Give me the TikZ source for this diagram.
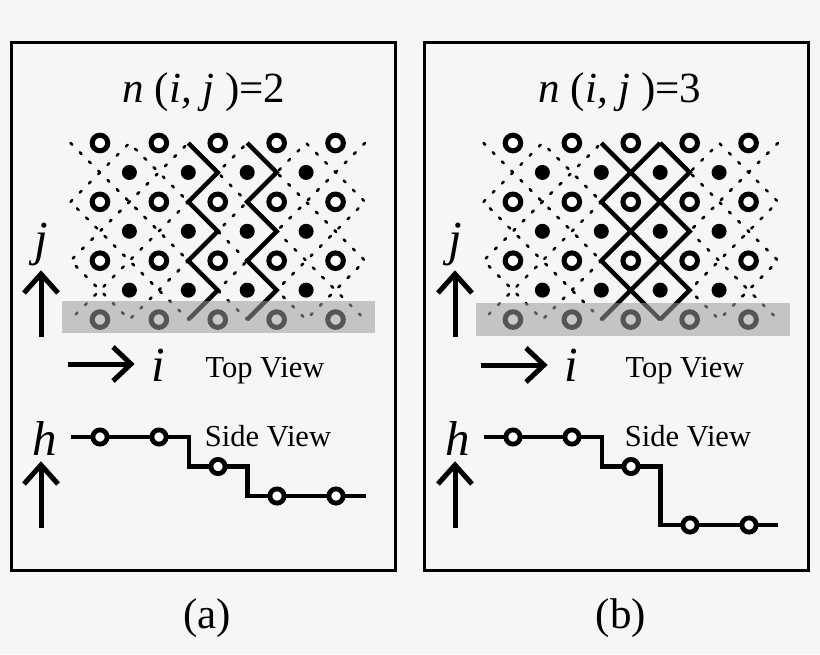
\documentclass[tikz,border=0pt]{standalone}
\usepackage{fontspec}
\setmainfont{Liberation Serif}
\definecolor{pagebg}{HTML}{F6F6F6}
\tikzset{
  x=1pt,y=-1pt,
  panelbox/.style={draw=black,line width=3pt,fill=none},
  bond/.style={draw=black,line width=2.6pt,line cap=round,line join=round,dash pattern=on 2.4pt off 10.66pt},
  solidbond/.style={draw=black,line width=4.4pt,miter limit=10},
  ringatom/.style={circle,draw=black,fill=white,line width=5pt,minimum size=15.6pt,inner sep=0pt,outer sep=0pt},
  sidering/.style={circle,draw=black,fill=white,line width=4.8pt,minimum size=14.2pt,inner sep=0pt,outer sep=0pt},
  solidatom/.style={circle,fill=black,minimum size=15pt,inner sep=0pt,outer sep=0pt},
  band/.style={fill={rgb,255:red,155;green,155;blue,155},fill opacity=.55},
  axis/.style={draw=black,line width=5pt,miter limit=10},
  stepline/.style={draw=black,line width=4.6pt,miter limit=10},
  title/.style={font=\fontsize{43}{43}\selectfont,inner sep=0pt},
  caption/.style={font=\fontsize{43}{43}\selectfont,inner sep=0pt},
  viewlabel/.style={font=\fontsize{30.5}{30.5}\selectfont,inner sep=0pt},
  axislabel/.style={font=\fontsize{49}{49}\selectfont\itshape,inner sep=0pt},
}
% lattice coordinates: column k, row m
\newcommand{\LP}[2]{({70.5+29.45*(#1)},{143+29.43*(#2)})}
\newcommand{\bonds}{%
  \draw[bond] \LP{0}{0} -- \LP{6}{6} -- \LP{10}{2} -- \LP{8}{0} -- \LP{2}{6} -- \LP{0}{4} -- \LP{4}{0} -- \LP{10}{6};
  \draw[bond] \LP{0}{2} -- \LP{2}{0} -- \LP{8}{6} -- \LP{10}{4} -- \LP{6}{0} -- \LP{0}{6};
  \draw[bond] \LP{10}{0} -- \LP{4}{6} -- \LP{0}{2};}
\newcommand{\atoms}[1]{%
  \foreach \k [count=\n] in {1,3,5,7,9}{%
    \foreach \m in {0,2,4,6}{%
      \node[ringatom] (#1r\n\m) at \LP{\k}{\m} {};
    }}
  \foreach \k [count=\n] in {2,4,6,8}{%
    \foreach \m in {1,3,5}{%
      \node[solidatom] (#1f\n\m) at \LP{\k}{\m} {};
    }}}
% zigzag between columns: #1 = column at rows 0,2,4,6; #2 = column at rows 1,3,5
\newcommand{\zig}[2]{%
  \draw[solidbond] \LP{#1}{0} -- \LP{#2}{1} -- \LP{#1}{2} -- \LP{#2}{3} -- \LP{#1}{4} -- \LP{#2}{5} -- \LP{#1}{6};}
\begin{document}
\begin{tikzpicture}
\useasboundingbox (0,0) rectangle (820,654);
\fill[pagebg] (0,0) rectangle (820,654);
%% ---------- panel a
\draw[panelbox] (11.5,42.5) rectangle (395.5,570.5);
\node[title] (ta) at (204,92) {\textit{n} (\textit{i, j} )=2};
\begin{scope}
  \bonds
  \zig{4}{5}
  \zig{6}{7}
  \atoms{a}
  \fill[band] (62,301) rectangle (375,333);
\end{scope}
\draw[axis] (41,337) -- (41,274);
\draw[axis] (24,293) -- (41,274) -- (58,293);
\node[axislabel] (ja) at (41,244) {j};
\draw[axis] (68,364) -- (131,364);
\draw[axis] (113,347) -- (131,364) -- (113,381);
\node[axislabel] (ia) at (158,365) {i};
\node[viewlabel] (tva) at (265,371) {Top View};
\node[viewlabel] (sva) at (268,436) {Side View};
\node[axislabel] (ha) at (45,438) {h};
\draw[axis] (41,528) -- (41,465);
\draw[axis] (24,484) -- (41,465) -- (58,484);
\draw[stepline] (71,437) -- (189,437) -- (189,466.5) -- (247.5,466.5) -- (247.5,496) -- (366,496);
\node[sidering] (sa1) at (100,437) {};
\node[sidering] (sa2) at (159,437) {};
\node[sidering] (sa3) at (218,466.5) {};
\node[sidering] (sa4) at (277,496) {};
\node[sidering] (sa5) at (336,496) {};
\node[caption] (ca) at (207,618) {(a)};
%% ---------- panel b
\draw[panelbox] (424.5,42.5) rectangle (808.5,570.5);
\node[title] (tb) at (620,92) {\textit{n} (\textit{i, j} )=3};
\begin{scope}[xshift=413pt]
  \bonds
  \zig{4}{5}
  \zig{6}{5}
  \zig{6}{7}
  \atoms{b}
  \fill[band] (63,303) rectangle (377,336);
\end{scope}
\draw[axis] (455,337) -- (455,274);
\draw[axis] (438,293) -- (455,274) -- (472,293);
\node[axislabel] (jb) at (455,244) {j};
\draw[axis] (481,365) -- (544,365);
\draw[axis] (526,348) -- (544,365) -- (526,382);
\node[axislabel] (ib) at (571,365) {i};
\node[viewlabel] (tvb) at (685,371) {Top View};
\node[viewlabel] (svb) at (688,436) {Side View};
\node[axislabel] (hb) at (458,438) {h};
\draw[axis] (455,528) -- (455,465);
\draw[axis] (438,484) -- (455,465) -- (472,484);
\draw[stepline] (484,437) -- (602,437) -- (602,466.5) -- (660.5,466.5) -- (660.5,525) -- (778,525);
\node[sidering] (sb1) at (513,437) {};
\node[sidering] (sb2) at (572,437) {};
\node[sidering] (sb3) at (631,466.5) {};
\node[sidering] (sb4) at (690,525) {};
\node[sidering] (sb5) at (749,525) {};
\node[caption] (cb) at (621,618) {(b)};
\end{tikzpicture}
\end{document}
